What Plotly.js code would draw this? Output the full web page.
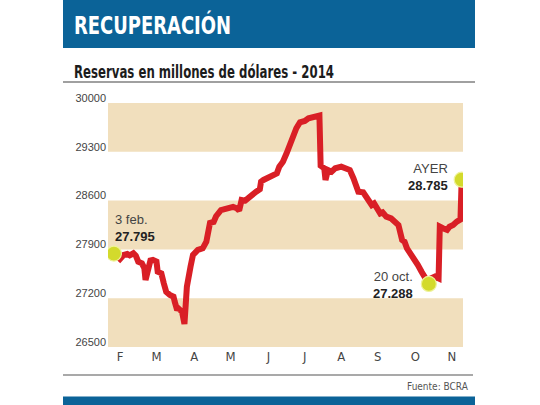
<!DOCTYPE html>
<html>
<head>
<meta charset="utf-8">
<script src="https://cdn.plot.ly/plotly-3.0.1.min.js"></script>
<style>
  html, body { margin: 0; padding: 0; background: #ffffff; }
  #chart { width: 540px; height: 405px; }
</style>
</head>
<body>
<div id="chart"></div>
<script>
// ---- data ----
const dates = [
  "2014-02-03","2014-02-08","2014-02-11","2014-02-14","2014-02-16","2014-02-19","2014-02-21","2014-02-23","2014-02-26","2014-02-28",
  "2014-03-01","2014-03-03","2014-03-05","2014-03-07","2014-03-10","2014-03-11","2014-03-14","2014-03-16","2014-03-18","2014-03-21",
  "2014-03-24","2014-03-25","2014-03-27","2014-03-28","2014-03-31","2014-04-02","2014-04-03","2014-04-04","2014-04-07","2014-04-09",
  "2014-04-13","2014-04-17","2014-04-20","2014-04-22","2014-04-23","2014-04-26","2014-04-28","2014-05-02","2014-05-08","2014-05-12",
  "2014-05-15","2014-05-17","2014-05-19","2014-05-22","2014-05-26","2014-05-29","2014-05-31","2014-06-03","2014-06-04","2014-06-06",
  "2014-06-10","2014-06-14","2014-06-17","2014-06-19","2014-06-22","2014-06-25","2014-06-28","2014-07-01","2014-07-03","2014-07-06",
  "2014-07-10","2014-07-13","2014-07-17","2014-07-22","2014-07-23","2014-07-26","2014-07-27","2014-07-29","2014-08-01","2014-08-04",
  "2014-08-09","2014-08-13","2014-08-16","2014-08-19","2014-08-23","2014-08-27","2014-08-31","2014-09-03","2014-09-05","2014-09-08",
  "2014-09-10","2014-09-12","2014-09-15","2014-09-19","2014-09-23","2014-09-25","2014-09-28","2014-09-30","2014-10-02","2014-10-06",
  "2014-10-08","2014-10-11","2014-10-14","2014-10-17","2014-10-18","2014-10-20","2014-10-22","2014-10-25","2014-10-28","2014-10-29",
  "2014-11-01","2014-11-04","2014-11-06","2014-11-09","2014-11-12","2014-11-14","2014-11-15","2014-11-16"
];
const reserves = [
  27840,27763,27820,27834,27815,27844,27810,27724,27700,27630,
  27461,27605,27740,27748,27725,27580,27557,27414,27293,27246,
  27222,27150,27030,27054,27006,26830,27020,27365,27652,27820,
  27892,27915,28010,28200,28281,28295,28376,28462,28487,28510,
  28490,28457,28609,28600,28657,28715,28728,28763,28872,28896,
  28935,28953,28991,29087,29158,29279,29422,29517,29638,29724,
  29742,29780,29804,29820,29100,29063,28895,29039,29015,29063,
  29087,29072,29039,28920,28728,28719,28633,28537,28560,28487,
  28415,28430,28370,28344,28296,28250,28035,28010,27915,27820,
  27748,27676,27580,27509,27461,27405,27485,27509,27485,28226,
  28200,28180,28226,28250,28298,28322,28330,28900
];
const yTicks = [26500, 27200, 27900, 28600, 29300, 30000];
const monthTickDates = ["2014-02-08","2014-03-10","2014-04-10","2014-05-10","2014-06-10","2014-07-10","2014-08-09","2014-09-08","2014-10-09","2014-11-08"];
const monthLabels = ["F","M","A","M","J","J","A","S","O","N"];
const highlightDates = ["2014-02-03","2014-10-20","2014-11-16"];
const highlightNames = ["3 feb.","20 oct.","AYER"];
const highlightValues = ["27.795","27.288","28.785"];
const titleText = "RECUPERACIÓN";
const subtitleText = "Reservas en millones de dólares - 2014";
const sourceText = "Fuente: BCRA";

// ---- styles ----
const BLUE = "#0b6398";
const TAN = "#f1dfbd";
const RED = "#d91f26";
const DOT = "#d3da2c";
const NARROW = "'Liberation Sans Narrow', 'DejaVu Sans Condensed', 'Liberation Sans', Arial, sans-serif";
const SANS = "'Liberation Sans', Arial, sans-serif";

// plot area in pixels: x 108..463, y 103..347
const L = 108, R = 463, T = 103, B = 347;
const px = x => (x - L) / (R - L);
const py = y => (B - y) / (B - T);

const hlY = highlightDates.map(d => reserves[dates.indexOf(d)]);

const shapes = [];
for (let i = 0; i + 1 < yTicks.length; i += 2) {
  shapes.push({type: "rect", xref: "paper", yref: "y", x0: 0, x1: 1, y0: yTicks[i], y1: yTicks[i + 1],
               fillcolor: TAN, line: {width: 0}, layer: "below"});
}
shapes.push({type: "rect", xref: "paper", yref: "paper", x0: px(63), x1: px(475), y0: py(48), y1: py(-5),
             fillcolor: BLUE, line: {width: 0}, layer: "below"});
shapes.push({type: "line", xref: "paper", yref: "paper", x0: px(63), x1: px(475), y0: py(82), y1: py(82),
             line: {color: "#a0a0a0", width: 2}});
shapes.push({type: "line", xref: "paper", yref: "paper", x0: px(63), x1: px(473), y0: py(375), y1: py(375),
             line: {color: "#555555", width: 1.2}});
shapes.push({type: "rect", xref: "paper", yref: "paper", x0: px(63), x1: px(475), y0: py(410), y1: py(396.5),
             fillcolor: BLUE, line: {width: 0}, layer: "below"});

const annPos = [
  {xanchor: "left", align: "left", xshift: -1, yshift: 26},
  {xanchor: "right", align: "right", xshift: -14, yshift: -1},
  {xanchor: "right", align: "right", xshift: -12, yshift: 3}
];
const annotations = [
  {xref: "paper", yref: "paper", x: px(72), y: py(25), xanchor: "left", yanchor: "middle", showarrow: false,
   text: "<b>" + titleText + "</b>", font: {family: NARROW, size: 24, color: "#ffffff"}},
  {xref: "paper", yref: "paper", x: px(72), y: py(72), xanchor: "left", yanchor: "middle", showarrow: false,
   text: "<b>" + subtitleText + "</b>", font: {family: NARROW, size: 17, color: "#1c1c1c"}},
  {xref: "paper", yref: "paper", x: px(471), y: py(386), xanchor: "right", yanchor: "middle", showarrow: false,
   text: sourceText, font: {family: NARROW, size: 10, color: "#555555"}}
];
highlightDates.forEach((d, i) => {
  annotations.push(Object.assign({
    x: d, y: hlY[i], xref: "x", yref: "y", yanchor: "middle", showarrow: false,
    text: "<span style='color:#444'>" + highlightNames[i] + "</span><br><b>" + highlightValues[i] + "</b>",
    font: {family: SANS, size: 13, color: "#222222"}
  }, annPos[i]));
});

const traces = [
  {x: dates, y: reserves, type: "scatter", mode: "lines", line: {color: RED, width: 6}, hoverinfo: "skip"},
  {x: highlightDates, y: hlY, type: "scatter", mode: "markers",
   marker: {color: DOT, size: 15, line: {color: "#eef29a", width: 1.2}}, hoverinfo: "skip"}
];

const layout = {
  width: 540, height: 405,
  margin: {l: L, r: 540 - R, t: T, b: 405 - B, pad: 0},
  paper_bgcolor: "#ffffff", plot_bgcolor: "rgba(0,0,0,0)",
  showlegend: false,
  xaxis: {
    type: "date", range: ["2014-01-29 03:00", "2014-11-17 02:00"],
    tickvals: monthTickDates, ticktext: monthLabels,
    showgrid: false, zeroline: false, showline: false, ticks: "",
    tickfont: {family: NARROW, size: 13, color: "#444444"}, fixedrange: true
  },
  yaxis: {
    range: [yTicks[0], yTicks[yTicks.length - 1]],
    tickvals: yTicks, ticktext: yTicks.map(String),
    showgrid: false, zeroline: false, showline: false, ticks: "",
    ticklabelshift: -5, ticklabelstandoff: 1,
    tickfont: {family: SANS, size: 11, color: "#444444"}, fixedrange: true
  },
  shapes: shapes,
  annotations: annotations
};

// condensed look for the headline texts (no condensed web font available offline)
const targetWidths = [157, 260];
Plotly.newPlot("chart", traces, layout, {displayModeBar: false, staticPlot: true}).then(gd => {
  const texts = gd.querySelectorAll("g.annotation text.annotation-text");
  targetWidths.forEach((w, i) => {
    const t = texts[i];
    if (!t) return;
    const before = t.getBBox();
    t.setAttribute("textLength", w);
    t.setAttribute("lengthAdjust", "spacingAndGlyphs");
    t.querySelectorAll("tspan").forEach(s => {
      s.setAttribute("textLength", w);
      s.setAttribute("lengthAdjust", "spacingAndGlyphs");
    });
    const after = t.getBBox();
    const x0 = parseFloat(t.getAttribute("x") || "0");
    t.setAttribute("x", x0 + (before.x - after.x));
  });
});
</script>
</body>
</html>
